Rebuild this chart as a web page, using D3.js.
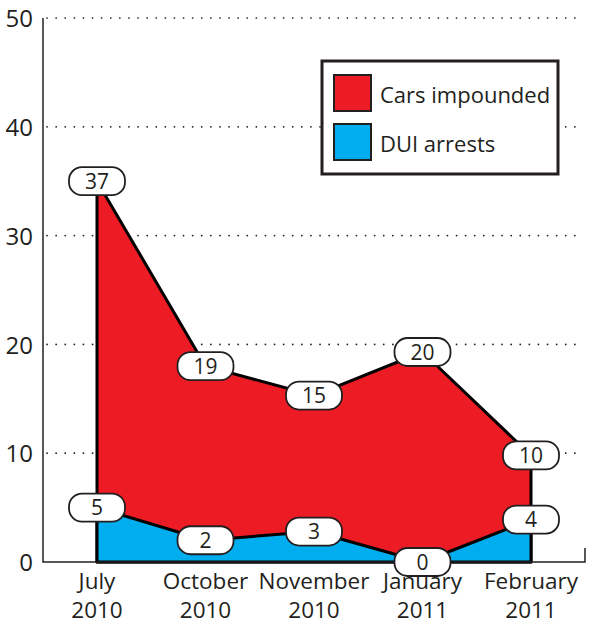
<!DOCTYPE html>
<html>
<head>
<meta charset="utf-8">
<script src="https://cdn.jsdelivr.net/npm/d3@7"></script>
<style>
  body { margin: 0; background: #fff; }
  text { font-family: "Open Sans", "Noto Sans", sans-serif; fill: #231f20; }
</style>
</head>
<body>
<svg id="chart" width="600" height="629"></svg>
<script>
// months on the x axis (two lines each)
var months = ["July", "October", "November", "January", "February"];
var years = ["2010", "2010", "2010", "2011", "2011"];

// values as drawn by the area shapes
var cars = [35, 18, 15.3, 19.3, 9.8];
var dui = [5, 2, 2.8, 0, 3.9];

// numbers printed in the bubbles
var carsLabels = [37, 19, 15, 20, 10];
var duiLabels = [5, 2, 3, 0, 4];

var yTicks = [0, 10, 20, 30, 40, 50];

var svg = d3.select("#chart"),
    plotLeft = 43, plotRight = 585, plotTop = 18, plotBottom = 562;

var x = d3.scalePoint()
    .domain(months)
    .range([97, 531]);

var y = d3.scaleLinear()
    .domain([0, 50])
    .range([plotBottom, plotTop]);

// dotted gridlines
svg.append("g")
  .selectAll("line")
  .data(yTicks.filter(function(d) { return d > 0; }))
  .enter().append("line")
    .attr("x1", plotLeft + 4)
    .attr("x2", plotRight - 2)
    .attr("y1", function(d) { return y(d); })
    .attr("y2", function(d) { return y(d); })
    .attr("stroke", "#231f20")
    .attr("stroke-width", 1.7)
    .attr("stroke-linecap", "round")
    .attr("stroke-dasharray", "0.1,9");

// areas
function area(values) {
  return d3.area()
    .x(function(d, i) { return x(months[i]); })
    .y0(y(0))
    .y1(function(d) { return y(d); })(values);
}

svg.append("path")
    .attr("d", area(cars))
    .attr("fill", "#ed1c24")
    .attr("stroke", "#000")
    .attr("stroke-width", 3)
    .attr("stroke-linejoin", "round");

svg.append("path")
    .attr("d", area(dui))
    .attr("fill", "#00aeef")
    .attr("stroke", "#000")
    .attr("stroke-width", 3)
    .attr("stroke-linejoin", "round");

// axes
var yAxis = svg.append("g")
    .attr("transform", "translate(" + plotLeft + ",0)")
    .call(d3.axisLeft(y).tickValues(yTicks).tickSize(0).tickPadding(10));
yAxis.select(".domain").remove();
yAxis.selectAll("text")
    .attr("font-size", 24)
    .attr("font-family", null)
    .attr("fill", null)
    .attr("dy", "0.36em");

svg.append("path")
    .attr("d", "M" + plotLeft + "," + plotTop + "V" + plotBottom + "H" + plotRight + "V" + (plotBottom - 14))
    .attr("fill", "none")
    .attr("stroke", "#231f20")
    .attr("stroke-width", 1.5);

// x labels
var xl = svg.append("g")
  .selectAll("text")
  .data(months)
  .enter().append("text")
    .attr("x", function(d) { return x(d); })
    .attr("y", 589)
    .attr("text-anchor", "middle")
    .attr("font-size", 22.5);
xl.append("tspan").text(function(d) { return d; });
xl.append("tspan")
    .attr("x", function(d) { return x(d); })
    .attr("dy", 29)
    .text(function(d, i) { return years[i]; });

// value bubbles
function bubbles(values, labels) {
  var g = svg.append("g")
    .selectAll("g")
    .data(values)
    .enter().append("g")
      .attr("transform", function(d, i) {
        return "translate(" + x(months[i]) + "," + y(d) + ")";
      });
  g.append("rect")
      .attr("x", -28).attr("y", -14)
      .attr("width", 56).attr("height", 28)
      .attr("rx", 13)
      .attr("fill", "#fff")
      .attr("stroke", "#231f20")
      .attr("stroke-width", 1.8);
  g.append("text")
      .attr("text-anchor", "middle")
      .attr("dy", "0.36em")
      .attr("font-size", 21)
      .text(function(d, i) { return labels[i]; });
}
bubbles(cars, carsLabels);
bubbles(dui, duiLabels);

// legend
var legend = svg.append("g");
legend.append("rect")
    .attr("x", 322).attr("y", 61)
    .attr("width", 236).attr("height", 113)
    .attr("fill", "#fff")
    .attr("stroke", "#231f20")
    .attr("stroke-width", 3);
var keys = [["Cars impounded", "#ed1c24"], ["DUI arrests", "#00aeef"]];
var items = legend.selectAll("g")
  .data(keys)
  .enter().append("g")
    .attr("transform", function(d, i) { return "translate(334," + (75 + i * 49) + ")"; });
items.append("rect")
    .attr("width", 37).attr("height", 36)
    .attr("fill", function(d) { return d[1]; })
    .attr("stroke", "#231f20")
    .attr("stroke-width", 2);
items.append("text")
    .attr("x", 46).attr("y", 28)
    .attr("font-size", 22)
    .text(function(d) { return d[0]; });
</script>
</body>
</html>
